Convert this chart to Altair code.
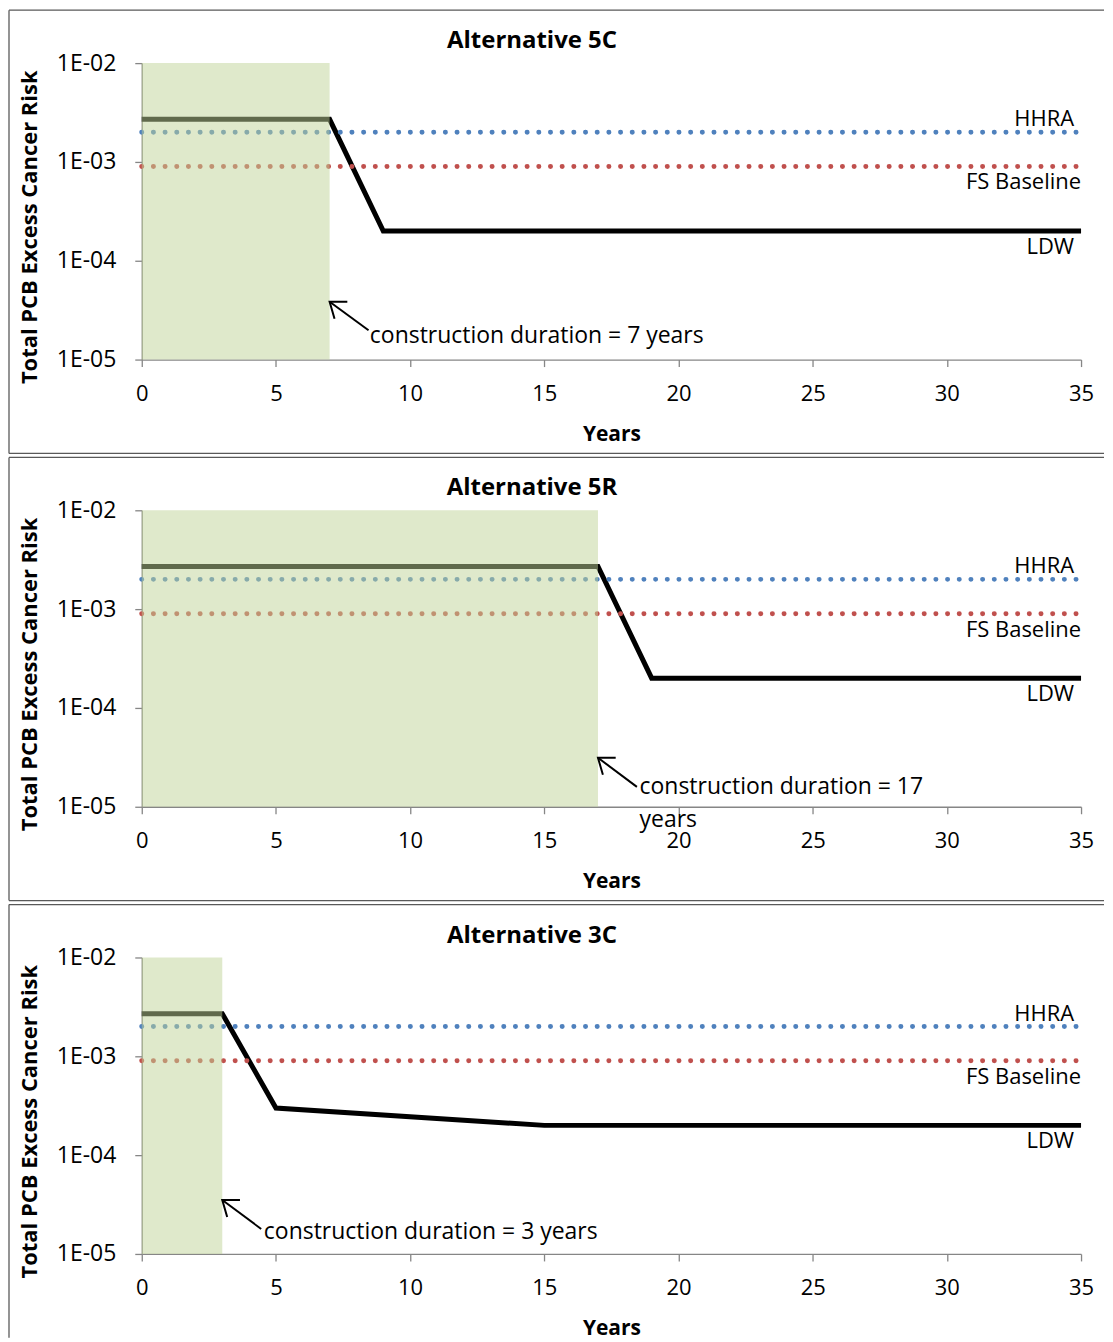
import altair as alt
import pandas as pd

# ---------------- data ----------------
PANEL_TITLES = ["Alternative 5C", "Alternative 5R", "Alternative 3C"]
CONSTRUCTION_YEARS = [7, 17, 3]
LDW_YEARS = [[0, 7, 9, 35], [0, 17, 19, 35], [0, 3, 5, 15, 35]]
LDW_RISK = [[2.7e-3, 2.7e-3, 2.0e-4, 2.0e-4],
            [2.7e-3, 2.7e-3, 2.0e-4, 2.0e-4],
            [2.7e-3, 2.7e-3, 3.0e-4, 2.0e-4, 2.0e-4]]
REF_NAMES = ["HHRA", "FS Baseline"]
REF_RISK = [2.0e-3, 9.0e-4]
REF_COLORS = ["#4f81bd", "#c0504d"]
X_START, X_END = 0, 35
X_TICKS = [0, 5, 10, 15, 20, 25, 30, 35]
Y_TICKS = [1e-5, 1e-4, 1e-3, 1e-2]
Y_MIN, Y_MAX = 1e-5, 1e-2

ANNOT_TEXT = ["construction duration = 7 years",
              "construction duration = 17\nyears",
              "construction duration = 3 years"]
ARROW_TIP_YEAR = [7.0, 17.0, 3.0]
ARROW_TIP_RISK = [3.85e-5, 3.13e-5, 3.51e-5]
ARROW_TAIL_YEAR = [8.45, 18.45, 4.45]
ARROW_TAIL_RISK = [1.98e-5, 1.59e-5, 1.79e-5]
ANNOT_YEAR = [8.5, 18.55, 4.55]
ANNOT_RISK = [1.75e-5, 1.57e-5, 1.67e-5]

FONT = "Open Sans"
W, H = 941, 297

xs = alt.Scale(domain=[X_START, X_END], nice=False, zero=False)
ys = alt.Scale(type="log", domain=[Y_MIN, Y_MAX], nice=False)
one = pd.DataFrame({"k": [0]})


def panel(i, last=False):
    ldw = pd.DataFrame({"year": LDW_YEARS[i], "risk": LDW_RISK[i]})
    xa = alt.Axis(values=X_TICKS, title="Years", titleFontWeight="bold",
                  titleFontSize=21, titleY=75, titleX=W / 2,
                  titleBaseline="middle", titleAlign="center",
                  labelPadding=17, labelFontSize=22, labelFlush=False)
    ya = alt.Axis(values=Y_TICKS, title="Total PCB Excess Cancer Risk",
                  titleFontWeight="bold", titleFontSize=22, titleX=-112,
                  titleY=164, titleAngle=270, titleBaseline="middle",
                  titleAlign="center", labelFontSize=23, labelPadding=19,
                  labelFlush=False,
                  labelExpr="'1E-0' + round(-log(datum.value)/LN10)")

    base_line = alt.Chart(ldw).mark_line(color="black", strokeWidth=5,
                                         strokeJoin="miter").encode(
        x=alt.X("year:Q", scale=xs, axis=xa),
        y=alt.Y("risk:Q", scale=ys, axis=ya),
    )
    layers = [base_line]
    for name, r, c in zip(REF_NAMES, REF_RISK, REF_COLORS):
        d = pd.DataFrame({"year": [X_START, X_END], "risk": [r, r]})
        layers.append(alt.Chart(d).mark_line(color=c, strokeWidth=5,
                                             strokeCap="round",
                                             strokeDash=[0, 11.7]).encode(
            x=alt.X("year:Q", scale=xs), y=alt.Y("risk:Q", scale=ys)))
    # construction shading
    rect = pd.DataFrame({"x0": [X_START], "x1": [CONSTRUCTION_YEARS[i]],
                         "y0": [Y_MIN], "y1": [Y_MAX]})
    layers.append(alt.Chart(rect).mark_rect(color="#c0d397", opacity=0.5).encode(
        x=alt.X("x0:Q", scale=xs), x2="x1:Q",
        y=alt.Y("y0:Q", scale=ys), y2="y1:Q"))
    # series labels
    lab = pd.DataFrame({"t": ["HHRA", "FS Baseline", "LDW"],
                        "year": [X_END, X_END, X_END],
                        "risk": [REF_RISK[0], REF_RISK[1], LDW_RISK[i][-1]],
                        "dx": [-7, 0, -7], "dy": [-13, 16, 16]})
    for _, row in lab.iterrows():
        layers.append(alt.Chart(pd.DataFrame([row])).mark_text(
            align="right", baseline="middle", fontSize=22, font=FONT,
            dx=int(row["dx"]), dy=int(row["dy"]), color="black").encode(
            x=alt.X("year:Q", scale=xs), y=alt.Y("risk:Q", scale=ys),
            text="t:N"))
    # annotation arrow + text
    arr = pd.DataFrame({"x": [ARROW_TIP_YEAR[i]], "y": [ARROW_TIP_RISK[i]],
                        "x2": [ARROW_TAIL_YEAR[i]], "y2": [ARROW_TAIL_RISK[i]]})
    layers.append(alt.Chart(arr).mark_rule(color="black", strokeWidth=2).encode(
        x=alt.X("x:Q", scale=xs), y=alt.Y("y:Q", scale=ys), x2="x2:Q", y2="y2:Q"))
    layers.append(alt.Chart(arr).mark_point(
        shape="M1.2,-0.9L0,0L1.2,0.9", size=560, angle=37, filled=False,
        stroke="black", strokeWidth=2, opacity=1).encode(
        x=alt.X("x:Q", scale=xs), y=alt.Y("y:Q", scale=ys)))
    ann = pd.DataFrame({"x": [ANNOT_YEAR[i]], "y": [ANNOT_RISK[i]],
                        "t": [ANNOT_TEXT[i]]})
    layers.append(alt.Chart(ann).mark_text(
        align="left", baseline="top", dy=-11, fontSize=23, font=FONT,
        lineBreak="\n", lineHeight=33, color="black").encode(
        x=alt.X("x:Q", scale=xs), y=alt.Y("y:Q", scale=ys), text="t:N"))
    # panel title
    layers.append(alt.Chart(pd.DataFrame({"t": [PANEL_TITLES[i]]})).mark_text(
        fontSize=24, fontWeight="bold", font=FONT, align="center",
        baseline="middle", color="black").encode(
        x=alt.value(391), y=alt.value(-22), text="t:N"))
    # panel frame
    fc = "#595959"
    left, right, top, bot = -133, 964, -53, H + 94
    layers.append(alt.Chart(one).mark_rule(color=fc, strokeWidth=1.3).encode(
        x=alt.value(left), x2=alt.value(right), y=alt.value(top)))
    layers.append(alt.Chart(one).mark_rule(color=fc, strokeWidth=1.3).encode(
        x=alt.value(left), y=alt.value(top), y2=alt.value(bot if not last else H + 84)))
    if not last:
        layers.append(alt.Chart(one).mark_rule(color=fc, strokeWidth=1.3).encode(
            x=alt.value(left), x2=alt.value(right), y=alt.value(bot)))
    return alt.layer(*layers).properties(width=W, height=H)


chart = alt.vconcat(panel(0), panel(1), panel(2, last=True), spacing=2).properties(
    padding=0
).configure_view(stroke=None).configure_axis(
    grid=False, domainColor="#868686", tickColor="#868686", tickSize=7,
    labelFont=FONT, titleFont=FONT, labelColor="black", titleColor="black",
    domainWidth=1.3, tickWidth=1.3
).configure_text(font=FONT)

chart.save("out.html", embed_options={"renderer": "svg", "actions": False})
